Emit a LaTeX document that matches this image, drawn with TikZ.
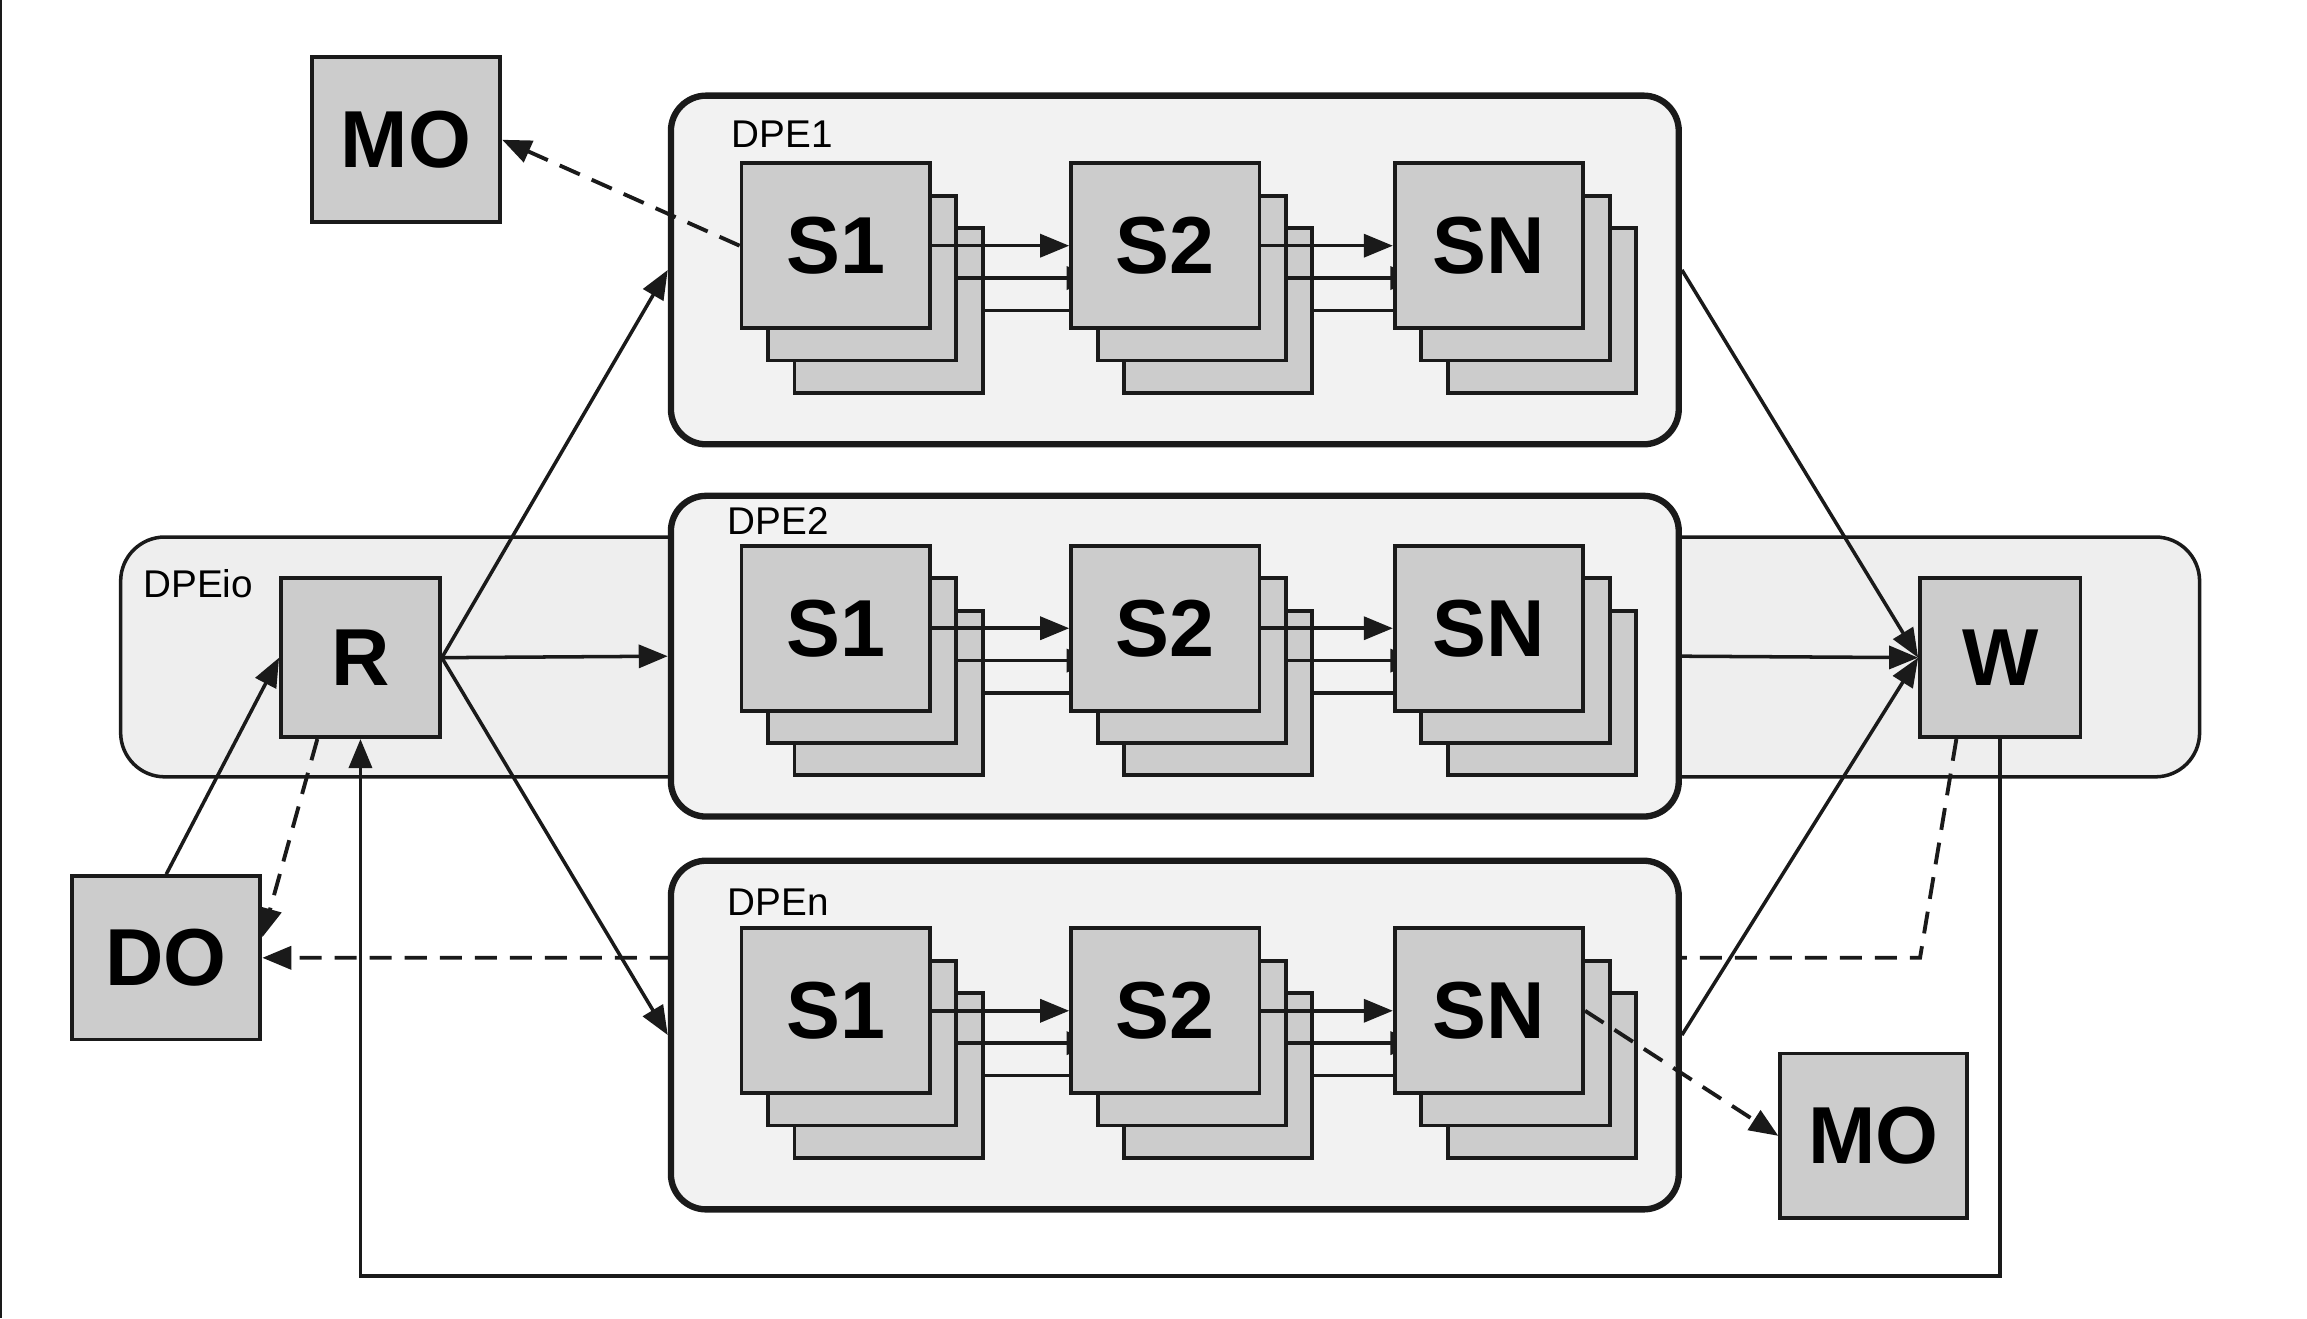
\documentclass[tikz,border=0pt]{standalone}
\usepackage{fontspec}
\setmainfont{Liberation Sans}
\usetikzlibrary{arrows.meta,positioning,calc}

\newlength{\px}
\setlength{\px}{0.14713mm}
\definecolor{boxgray}{HTML}{CCCCCC}
\definecolor{dpegray}{HTML}{F2F2F2}
\definecolor{iogray}{HTML}{EEEEEE}
\definecolor{ink}{HTML}{1A1A1A}

\pgfdeclarelayer{back}
\pgfdeclarelayer{front}
\pgfsetlayers{back,main,front}

\begin{document}
\begin{tikzpicture}[x=0.14713mm, y=-0.14713mm, >={Triangle[length=2.9mm,width=2.3mm]},
  box/.style={draw=ink, fill=boxgray, line width=1.1pt, minimum width=128\px, minimum height=112\px, inner sep=0pt, font=\fontsize{23}{23}\selectfont\bfseries},
  dpe/.style={draw=ink, fill=dpegray, line width=1.8pt, rounded corners=24\px, inner sep=0pt},
  tag/.style={font=\fontsize{11}{13}\selectfont, inner sep=0pt, anchor=west},
  flow/.style={->, draw=ink, line width=1pt},
  ctrl/.style={->, draw=ink, line width=1.1pt, dash pattern=on 2.2mm off 1.3mm}]
  \useasboundingbox (0,0) rectangle (1568,896);

  % outer nodes
  \node[box] (mo1) at (276,95) {MO};
  \node[box, minimum width=108\px, minimum height=108\px] (r) at (245,447) {R};
  \node[box, minimum width=109\px, minimum height=108\px] (w) at (1359.5,447) {W};
  \node[box, minimum height=111\px] (do) at (113,651) {DO};
  \node[box, minimum width=127\px] (mo2) at (1273.5,772) {MO};
  \coordinate (wbend) at (1305,651);

  % engines
  \begin{pgfonlayer}{back}
    \draw[ink, line width=1pt] (0.5,0) -- (0.5,896);
    \node[draw=ink, fill=iogray, line width=1pt, rounded corners=30\px, minimum width=1413\px, minimum height=163\px] (dpeio) at (788.5,446.5) {};
    \node[tag] (dpeio-lab) at (97,397) {DPEio};
    \draw[ctrl] ($(w.south west)+(26,0)$) -- (wbend) -- (do.east);
    \node[dpe, minimum width=685\px, minimum height=237\px] (dpe1) at (798.5,183.5) {};
    \node[dpe, minimum width=685\px, minimum height=218\px] (dpe2) at (798.5,446) {};
    \node[dpe, minimum width=685\px, minimum height=237\px] (dpen) at (798.5,703.5) {};
    \node[tag] (dpe1-lab) at (497,91) {DPE1};
    \node[tag] (dpe2-lab) at (494,354) {DPE2};
    \node[tag] (dpen-lab) at (494,613) {DPEn};
  \end{pgfonlayer}

  % stages, two copies behind each one
  \foreach \row/\cy in {dpe1/167, dpe2/427, dpen/687} {
    \foreach \col/\cx/\txt in {s1/568/S1, s2/792/S2, sn/1012/SN} {
      \node[box] (\row-\col-b2) at (\cx+36,\cy+44) {};
      \node[box] (\row-\col-b1) at (\cx+18,\cy+22) {};
      \begin{pgfonlayer}{front}
        \node[box] (\row-\col) at (\cx,\cy) {\txt};
      \end{pgfonlayer}
    }
  }
  \foreach \row in {dpe1,dpe2,dpen} {
    \foreach \a/\b in {s1/s2, s2/sn} {
      \draw[flow] (\row-\a.east) -- (\row-\b.west);
      \draw[flow] (\row-\a-b1.east) -- (\row-\b-b1.west);
      \draw[flow] (\row-\a-b2.east) -- (\row-\b-b2.west);
    }
  }

  % connectors
  \draw[flow] (do.north) -- (r.west);
  \draw[ctrl] ($(r.south west)+(26,0)$) -- ($(do.east)+(0,-14)$);
  \foreach \t in {dpe1,dpe2,dpen} {
    \draw[flow] (r.east) -- (\t.west);
    \draw[flow] (\t.east) -- (w.west);
  }
  \draw[flow] (w.south) -- ++(0,365) -| (r.south);
  \draw[ctrl] (dpe1-s1.west) -- (mo1.east);
  \draw[ctrl] (dpen-sn.east) -- (mo2.west);
\end{tikzpicture}
\end{document}
